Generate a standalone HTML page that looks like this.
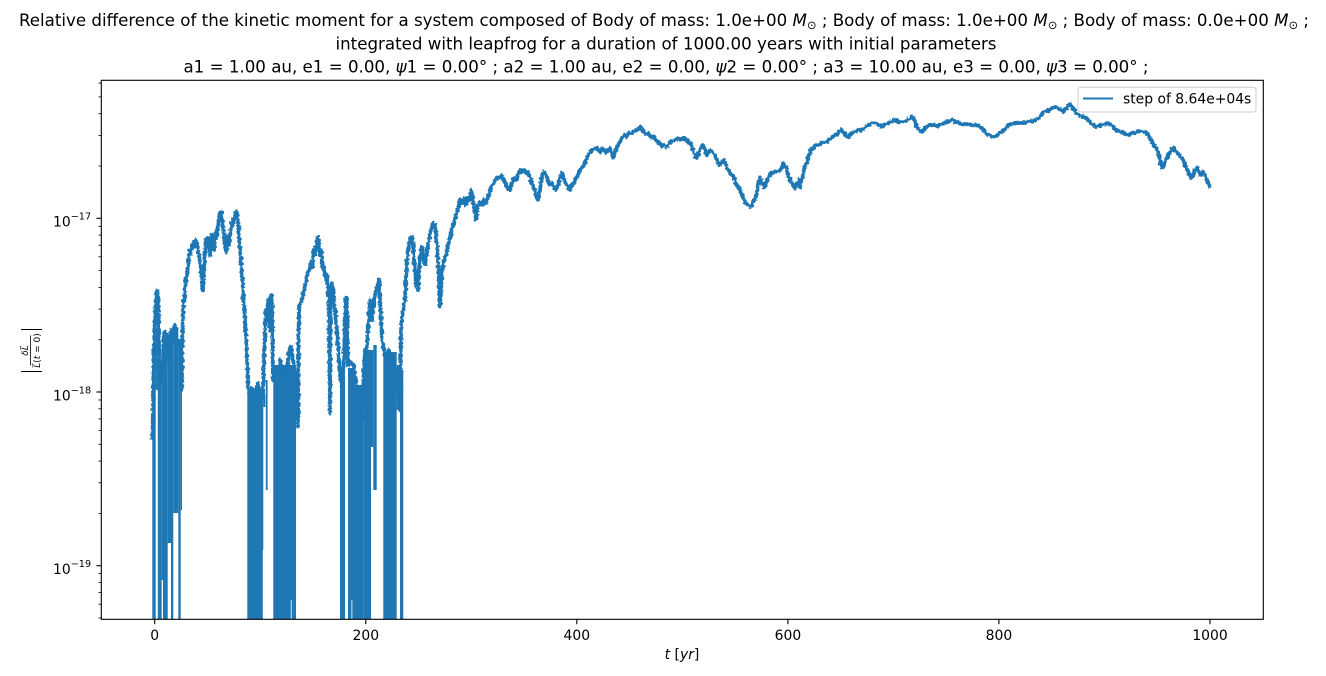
<!DOCTYPE html>
<html>
<head>
<meta charset="utf-8">
<style>
  html,body{margin:0;padding:0;background:#fff;}
  svg{display:block;}
  text{font-family:"DejaVu Sans","Liberation Sans",sans-serif;fill:#000;}
</style>
</head>
<body>
<svg width="1326" height="676" viewBox="0 0 1326 676" xmlns="http://www.w3.org/2000/svg">
  <rect x="0" y="0" width="1326" height="676" fill="#fff"/>
  <defs>
    <clipPath id="plot"><rect x="101.3" y="80.3" width="1162" height="539"/></clipPath>
    <filter id="jit" filterUnits="userSpaceOnUse" x="100" y="78" width="1170" height="548">
      <feTurbulence type="fractalNoise" baseFrequency="0.35" numOctaves="2" seed="7" result="n"/>
      <feDisplacementMap in="SourceGraphic" in2="n" scale="4" xChannelSelector="R" yChannelSelector="G"/>
    </filter>
  </defs>

  <!-- Title -->
  <text x="664" y="26" font-size="16.67" text-anchor="middle">Relative difference of the kinetic moment for a system composed of Body of mass: 1.0e+00 <tspan font-style="italic">M</tspan><tspan font-size="11.5" dy="3">⊙</tspan><tspan dy="-3"> ; Body of mass: 1.0e+00 </tspan><tspan font-style="italic">M</tspan><tspan font-size="11.5" dy="3">⊙</tspan><tspan dy="-3"> ; Body of mass: 0.0e+00 </tspan><tspan font-style="italic">M</tspan><tspan font-size="11.5" dy="3">⊙</tspan><tspan dy="-3"> ;</tspan></text>
  <text x="666" y="49.3" font-size="16.67" text-anchor="middle">integrated with leapfrog for a duration of 1000.00 years with initial parameters</text>
  <text x="666" y="72.7" font-size="16.67" text-anchor="middle">a1 = 1.00 au, e1 = 0.00, <tspan font-style="italic">ψ</tspan>1 = 0.00° ; a2 = 1.00 au, e2 = 0.00, <tspan font-style="italic">ψ</tspan>2 = 0.00° ; a3 = 10.00 au, e3 = 0.00, <tspan font-style="italic">ψ</tspan>3 = 0.00° ;</text>

  <!-- Data -->
  <g clip-path="url(#plot)" fill="#1f77b4">
    <!-- region 1 blocks -->
    <polygon points="152.3,622 152.3,440 153.5,380 155.7,330 155.7,622"/>
    <rect x="155.7" y="330" width="2" height="60"/>
    <rect x="157.7" y="360" width="4" height="262"/>
    <rect x="161.7" y="370" width="1.3" height="210"/>
    <rect x="163" y="335" width="4.7" height="287"/>
    <rect x="167.7" y="340" width="3.3" height="203"/>
    <rect x="171" y="335" width="2.3" height="287"/>
    <rect x="173.3" y="330" width="5" height="183"/>
    <rect x="178.3" y="340" width="2.4" height="282"/>
    <rect x="180.7" y="350" width="1.3" height="160"/>
    <!-- region 2 blocks -->
    <rect x="247.3" y="390" width="16" height="232"/>
    <rect x="263.3" y="395" width="2" height="12"/>
    <rect x="265.8" y="380" width="1.8" height="110"/>
    <rect x="273.3" y="365" width="22.7" height="257"/>
    <rect x="340" y="375" width="5" height="247"/>
    <rect x="348" y="368" width="7" height="254"/>
    <rect x="355" y="385" width="8.3" height="237"/>
    <rect x="363.3" y="350" width="7.7" height="272"/>
    <rect x="371" y="350" width="2.3" height="97"/>
    <rect x="373.3" y="345" width="3.4" height="145"/>
    <rect x="383.3" y="352" width="13.4" height="270"/>
    <rect x="396.7" y="365" width="3.3" height="45"/>
    <rect x="400" y="370" width="3.3" height="252"/>
    <!-- thin white slits -->
    <rect x="156.6" y="392" width="1.0" height="230" fill="#fff"/>
    <rect x="262.8" y="550" width="0.8" height="72" fill="#fff"/>
    <rect x="290.8" y="600" width="0.8" height="22" fill="#fff"/>
    <rect x="351.5" y="600" width="0.8" height="22" fill="#fff"/>

    <polyline filter="url(#jit)" fill="none" stroke="#1f77b4" stroke-width="3.8" stroke-linejoin="round" stroke-linecap="butt" points="
152.5,440 153.5,380 154.5,330 155.5,310 156.5,295 157.3,290 158.3,300 159,350 159.5,385 160.5,360 161.5,372 162.5,380 163.5,340 164.5,332 166,333 167,340 168,360 169,335 170,345 171,330 172,340 173,335 174,327 175,325 176,330 177,345 178,345 179,340 180,350 181,370 181.8,390 182.5,330 183.5,300 184.5,298 185,290 186,280 187,275 188,265 189,255 190,250 191,252 192,245 193,248 194,242 195,247 196,240 197,245 198,250 199,258 200,262 201,270 202,283 203,290 204,275 205,250 206,240 207,245 208,238 209,248 210,255 211,245 212,235 213,240 214,250 215,240 216,232 217,235 218,225 219,218 220,213 221,212 222,218 223,228 224,233 225,245 226,252 227,243 228,237 229,245 230,235 231,228 232,222 233,225 234,218 235,215 236,212 237,214 238,222 239,235 240,250 241,262 242,275 243,290 244,305 245,320 246,340 247,358 248,385 249,393 252,388 255,395 258,383 261,398 263,395 264,360 265,330 266,310 267,320 268,300 269,310 270,330 271,300 271.7,295 272.5,330 273,380 274,377 278,377 280,360 283,370 286,385 289,350 291,347 293,360 296,383 297,410 298,427 298.5,340 299,310 300,303 302,300 304,290 306,282 307,275 309,270 310,268 311,262 312,268 313,260 314,250 315,255 316,245 317,238 318,237 319,245 320,255 321,250 322,262 324,270 326,280 327,275 328,290 329,300 330,413 330.5,290 332,283 334,300 336,320 338,345 340,375 342,385 344,360 345.5,300 346.5,297 347.5,330 348,365 350,363 353,365 356,380 358,420 361,427 363,390 365,350 367,347 368,330 370,300 372,320 374,300 376,290 378,285 379.3,280 380,300 381,320 382,340 383,345 386,360 389,350 392,360 395,367 397,380 399,400 400,410 401,330 402,320 403,310 404,305 405,300 406,280 407,260 408,253 409,245 410,240 411,238 412,237 413,245 414,260 415,270 416,285 417,275 418,290 419,270 420,260 421,250 422,247 423,255 425,265 427,250 429,240 431,230 433,223 435,225 437,245 439,280 440,307 441,290 442,270 444,260 446,255 448,245 450,238 452,228 454,222 456,215 458,210 460,200 462,203 464,198 466,205 468,197 470,200 471,190 473,200 475,212 476,220 478,205 480,202 482,205 484,200 486,203 488,198 490,190 492,185 494,182 496,180 498,177 500,178 502,176 504,180 506,185 508,188 510,190 512,182 514,178 516,180 518,175 520,170 522,172 524,170 526,173 528,172 530,178 532,183 534,188 536,195 538,200 540,190 542,175 544,172 546,175 548,180 550,185 552,183 554,187 556,190 558,185 560,178 562,173 564,180 566,183 568,187 570,190 572,185 574,183 576,178 578,175 580,170 582,168 584,165 586,160 588,155 590,152 592,150 594,149 596,148 598,150 600,152 602,148 604,150 606,153 608,150 610,148 612,153 613,158 615,152 617,147 619,143 621,140 623,137 625,135 627,137 629,133 631,134 633,132 635,131 637,130 639,128 640,127 642,130 644,132 646,134 648,133 650,136 652,138 654,137 656,140 658,142 660,144 662,146 664,145 666,147 668,145 670,142 672,141 674,140 676,140 678,138 680,140 682,139 684,137 686,140 688,141 690,143 692,148 694,153 696,157 697,158 699,152 701,148 703,146 705,150 707,155 709,152 711,150 713,153 715,155 717,160 719,164 720,165 722,162 724,160 726,165 728,170 730,173 732,175 734,178 736,183 738,187 740,190 742,195 744,200 746,203 748,205 750,207 752,205 754,200 756,197 757,190 759,180 760,178 762,183 764,187 766,183 768,178 770,175 772,172 774,173 776,171 778,172 780,170 782,168 783,163 785,166 787,170 789,178 791,182 793,185 795,188 797,183 799,180 800,187 802,178 804,170 805,167 807,162 809,155 811,150 813,148 815,146 817,145 819,145 821,143 823,143 825,142 827,142 829,140 831,138 833,137 835,135 837,134 839,132 842,130 844,133 846,136 848,137 850,135 852,133 855,132 858,130 861,130 864,128 867,126 870,124 873,123 876,123 879,125 882,127 885,125 888,123 891,122 894,120 897,121 900,122 903,122 906,121 909,119 911,117 913,117 915,122 917,127 919,130 922,132 925,128 928,126 931,125 934,125 937,126 940,125 943,124 946,122 949,121 951,120 953,120 956,122 959,123 962,125 965,124 968,124 971,125 974,125 977,125 980,127 983,130 986,133 989,135 992,137 994,137 996,136 998,135 1000,133 1003,131 1006,128 1009,125 1012,124 1015,123 1018,123 1021,123 1024,123 1027,122 1030,121 1033,121 1036,120 1039,118 1041,115 1043,112 1046,111 1049,110 1052,108 1055,107 1058,108 1061,110 1063,112 1065,110 1067,107 1069,105 1070,104 1072,107 1074,110 1076,113 1078,114 1081,116 1084,117 1087,119 1090,122 1093,125 1096,127 1099,126 1102,125 1105,124 1108,123 1110,124 1112,126 1114,128 1116,130 1118,131 1121,132 1124,133 1127,135 1130,134 1133,133 1136,132 1139,131 1142,131 1145,132 1148,135 1151,140 1154,145 1156,148 1158,152 1160,160 1162,168 1164,165 1166,160 1168,156 1170,152 1172,149 1173,148 1175,150 1177,153 1179,155 1181,157 1183,160 1185,165 1187,170 1189,173 1191,178 1193,175 1195,170 1197,168 1199,172 1201,175 1203,172 1205,175 1207,180 1209,185 1210,188"/>
  </g>

  <!-- Axes frame -->
  <rect x="101.3" y="80.3" width="1162" height="539" fill="none" stroke="#000" stroke-width="1.1"/>

  <!-- X ticks -->
  <g stroke="#000" stroke-width="1.1">
    <line x1="154.7" y1="619.3" x2="154.7" y2="624.2"/>
    <line x1="365.8" y1="619.3" x2="365.8" y2="624.2"/>
    <line x1="576.8" y1="619.3" x2="576.8" y2="624.2"/>
    <line x1="787.9" y1="619.3" x2="787.9" y2="624.2"/>
    <line x1="998.9" y1="619.3" x2="998.9" y2="624.2"/>
    <line x1="1210" y1="619.3" x2="1210" y2="624.2"/>
  </g>
  <g font-size="13.9" text-anchor="middle">
    <text x="154.7" y="640">0</text>
    <text x="365.8" y="640">200</text>
    <text x="576.8" y="640">400</text>
    <text x="787.9" y="640">600</text>
    <text x="998.9" y="640">800</text>
    <text x="1210" y="640">1000</text>
  </g>
  <text x="682" y="659" font-size="13.9" text-anchor="middle"><tspan font-style="italic">t</tspan> [<tspan font-style="italic">yr</tspan>]</text>

  <!-- Y ticks major -->
  <g stroke="#000" stroke-width="1.1">
    <line x1="101.3" y1="218.3" x2="96.4" y2="218.3"/>
    <line x1="101.3" y1="392" x2="96.4" y2="392"/>
    <line x1="101.3" y1="565.7" x2="96.4" y2="565.7"/>
  </g>
  <!-- Y ticks minor -->
  <g stroke="#000" stroke-width="0.83">
    <line x1="101.3" y1="166" x2="98.5" y2="166"/>
    <line x1="101.3" y1="135.4" x2="98.5" y2="135.4"/>
    <line x1="101.3" y1="113.7" x2="98.5" y2="113.7"/>
    <line x1="101.3" y1="96.9" x2="98.5" y2="96.9"/>
    <line x1="101.3" y1="83.1" x2="98.5" y2="83.1"/>
    <line x1="101.3" y1="339.7" x2="98.5" y2="339.7"/>
    <line x1="101.3" y1="309.1" x2="98.5" y2="309.1"/>
    <line x1="101.3" y1="287.4" x2="98.5" y2="287.4"/>
    <line x1="101.3" y1="270.6" x2="98.5" y2="270.6"/>
    <line x1="101.3" y1="256.8" x2="98.5" y2="256.8"/>
    <line x1="101.3" y1="245.2" x2="98.5" y2="245.2"/>
    <line x1="101.3" y1="235.1" x2="98.5" y2="235.1"/>
    <line x1="101.3" y1="226.3" x2="98.5" y2="226.3"/>
    <line x1="101.3" y1="513.4" x2="98.5" y2="513.4"/>
    <line x1="101.3" y1="482.8" x2="98.5" y2="482.8"/>
    <line x1="101.3" y1="461.1" x2="98.5" y2="461.1"/>
    <line x1="101.3" y1="444.3" x2="98.5" y2="444.3"/>
    <line x1="101.3" y1="430.5" x2="98.5" y2="430.5"/>
    <line x1="101.3" y1="418.9" x2="98.5" y2="418.9"/>
    <line x1="101.3" y1="408.8" x2="98.5" y2="408.8"/>
    <line x1="101.3" y1="400" x2="98.5" y2="400"/>
    <line x1="101.3" y1="573.6" x2="98.5" y2="573.6"/>
    <line x1="101.3" y1="582.5" x2="98.5" y2="582.5"/>
    <line x1="101.3" y1="592.6" x2="98.5" y2="592.6"/>
    <line x1="101.3" y1="604.2" x2="98.5" y2="604.2"/>
    <line x1="101.3" y1="618" x2="98.5" y2="618"/>
  </g>
  <g font-size="13.9">
    <text x="53" y="226.7">10<tspan font-size="9.7" dy="-7">−17</tspan></text>
    <text x="53" y="400.4">10<tspan font-size="9.7" dy="-7">−18</tspan></text>
    <text x="53" y="574.1">10<tspan font-size="9.7" dy="-7">−19</tspan></text>
  </g>

  <!-- Y label -->
  <g transform="translate(30,350.5) rotate(-90)">
    <text x="0" y="-2" font-size="9" text-anchor="middle" font-style="italic">δL⃗</text>
    <line x1="-15" y1="0.5" x2="15" y2="0.5" stroke="#000" stroke-width="0.8"/>
    <text x="0" y="10" font-size="9" text-anchor="middle"><tspan font-style="italic">L⃗</tspan>(<tspan font-style="italic">t</tspan> = 0)</text>
    <line x1="-21" y1="-9" x2="-21" y2="12" stroke="#000" stroke-width="0.9"/>
    <line x1="21" y1="-9" x2="21" y2="12" stroke="#000" stroke-width="0.9"/>
  </g>

  <!-- Legend -->
  <rect x="1078" y="87.3" width="178" height="24.7" rx="2.8" ry="2.8" fill="#fff" fill-opacity="0.8" stroke="#cccccc" stroke-width="1"/>
  <line x1="1083" y1="98.5" x2="1113" y2="98.5" stroke="#1f77b4" stroke-width="2.1"/>
  <text x="1123" y="103.5" font-size="13.9">step of 8.64e+04s</text>
</svg>
</body>
</html>
